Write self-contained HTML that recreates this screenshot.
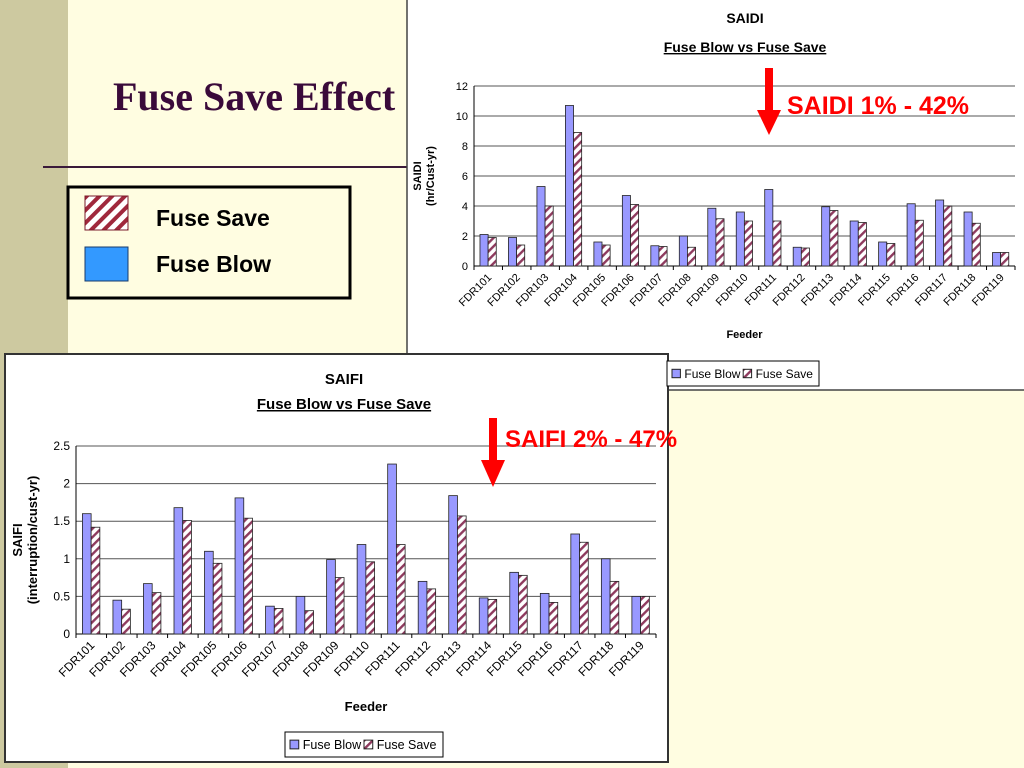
<!DOCTYPE html>
<html><head><meta charset="utf-8"><style>
body{margin:0;width:1024px;height:768px;overflow:hidden;background:#fffde1;font-family:"Liberation Sans",sans-serif;}
svg{position:absolute;left:0;top:0}
</style></head><body>
<svg width="1024" height="768">
<defs>
<pattern id="hatch" patternUnits="userSpaceOnUse" width="6" height="6" patternTransform="rotate(45)">
<rect width="6" height="6" fill="#fff"/><rect width="2.4" height="6" fill="#8e3a5e"/>
</pattern>
<pattern id="hatch2" patternUnits="userSpaceOnUse" width="9" height="9" patternTransform="rotate(45)">
<rect width="9" height="9" fill="#fff"/><rect width="4" height="9" fill="#a0283c"/>
</pattern>
</defs>
<rect x="0" y="0" width="68" height="768" fill="#cdc9a0"/>
<line x1="43" y1="167" x2="407" y2="167" stroke="#3a1a3a" stroke-width="2"/>
<text x="113" y="110" font-family="Liberation Serif" font-weight="bold" font-size="40" fill="#3a0a3a">Fuse Save Effect</text>
<g>
<rect x="68" y="187" width="282" height="111" fill="none" stroke="#000" stroke-width="3"/>
<rect x="85" y="196" width="43" height="34" fill="url(#hatch2)" stroke="#7a1a2a"/>
<text x="156" y="226" font-weight="bold" font-size="23">Fuse Save</text>
<rect x="85" y="247" width="43" height="34" fill="#3399ff" stroke="#1a3a6a"/>
<text x="156" y="272" font-weight="bold" font-size="23">Fuse Blow</text>
</g>
<rect x="407" y="-1" width="618" height="391" fill="#fff" stroke="#444" stroke-width="1.5"/>
<rect x="5" y="354" width="663" height="408" fill="#fff" stroke="#333" stroke-width="2"/>
<g id="saidi"></g>
<g id="saifi"></g>
<g>
<rect x="765" y="68" width="8" height="44" fill="#f00"/>
<polygon points="757,110 781,110 769,135" fill="#f00"/>
<text x="787" y="114" font-weight="bold" font-size="25" fill="#f00">SAIDI 1% - 42%</text>
</g>
<g>
<rect x="489" y="418" width="8" height="44" fill="#f00"/>
<polygon points="481,460 505,460 493,487" fill="#f00"/>
<text x="505" y="447" font-weight="bold" font-size="24" fill="#f00">SAIFI 2% - 47%</text>
</g>
</svg>
<script>
const categories = ["FDR101","FDR102","FDR103","FDR104","FDR105","FDR106","FDR107","FDR108","FDR109","FDR110","FDR111","FDR112","FDR113","FDR114","FDR115","FDR116","FDR117","FDR118","FDR119"];
const saidiBlow = [2.1,1.9,5.3,10.7,1.6,4.7,1.35,2.0,3.85,3.6,5.1,1.25,3.95,3.0,1.6,4.15,4.4,3.6,0.9];
const saidiSave = [1.9,1.4,4.0,8.9,1.4,4.1,1.3,1.25,3.15,3.0,3.0,1.2,3.7,2.9,1.5,3.05,4.0,2.85,0.9];
const saidiTicks = [0,2,4,6,8,10,12];
const saifiBlow = [1.6,0.45,0.67,1.68,1.1,1.81,0.37,0.5,0.99,1.19,2.26,0.7,1.84,0.48,0.82,0.54,1.33,1.0,0.5];
const saifiSave = [1.42,0.33,0.55,1.51,0.94,1.54,0.34,0.31,0.75,0.96,1.19,0.6,1.57,0.46,0.78,0.42,1.22,0.7,0.5];
const saifiTicks = [0,0.5,1,1.5,2,2.5];
const NS="http://www.w3.org/2000/svg";
function mk(parent,tag,attrs,txt){const e=document.createElementNS(NS,tag);for(const k in attrs)e.setAttribute(k,attrs[k]);if(txt!==undefined)e.textContent=txt;parent.appendChild(e);return e;}
function chart(gid,o,blow,save,ticks){
  const g=document.getElementById(gid);
  const ymax=ticks[ticks.length-1];
  const y=v=>o.y1-(v/ymax)*(o.y1-o.y0);
  const cw=(o.x1-o.x0)/categories.length;
  const x=i=>o.x0+i*cw;
  const bw=cw/3.5;
  ticks.forEach(t=>{
    const l=mk(g,'line',{x1:o.x0,x2:o.x1,y1:y(t),y2:y(t),stroke:t===0?'#000':'#555','stroke-width':1});
    
    
    const tl=mk(g,'text',{x:o.x0-6,y:y(t)+4,'text-anchor':'end','font-size':o.fs},String(t));
    
    
  });
  mk(g,'line',{x1:o.x0,x2:o.x0,y1:o.y0,y2:o.y1,stroke:'#000'});
  categories.forEach((c,i)=>{
    const b=mk(g,'rect',{x:x(i)+cw*0.21,y:y(blow[i]),width:bw,height:o.y1-y(blow[i]),fill:'#9999ff',stroke:'#222','stroke-width':0.8});
    
    
    const s=mk(g,'rect',{x:x(i)+cw*0.21+bw,y:y(save[i]),width:bw,height:o.y1-y(save[i]),fill:'url(#hatch)',stroke:'#222','stroke-width':0.8});
    
    
    mk(g,'line',{x1:x(i),x2:x(i),y1:o.y1,y2:o.y1+4,stroke:'#000'});
    const tx=x(i)+cw*0.5+4, ty=o.y1+12;
    const lab=mk(g,'text',{x:tx,y:ty,'text-anchor':'end','font-size':o.fs,transform:`rotate(-45 ${tx} ${ty})`},c);
    
    
  });
  mk(g,'line',{x1:o.x1,x2:o.x1,y1:o.y1,y2:o.y1+4,stroke:'#000'});
  const cx=o.tcx;
  const t1=mk(g,'text',{x:cx,y:o.t1,'text-anchor':'middle','font-weight':'bold','font-size':o.tfs},o.title);
  
  
  const t2=mk(g,'text',{x:cx,y:o.t2,'text-anchor':'middle','font-weight':'bold','font-size':o.tfs,'text-decoration':'underline'},'Fuse Blow vs Fuse Save');
  
  
  const xt=mk(g,'text',{x:(o.x0+o.x1)/2,y:o.xty,'text-anchor':'middle','font-weight':'bold','font-size':o.afs},'Feeder');
  
  
  const ym=(o.y0+o.y1)/2;
  const ya=mk(g,'text',{x:o.yax,y:ym,'text-anchor':'middle','font-weight':'bold','font-size':o.afs,transform:`rotate(-90 ${o.yax} ${ym})`},o.ytitle1);
  
  
  const yb=mk(g,'text',{x:o.yax+o.afs+2,y:ym,'text-anchor':'middle','font-weight':'bold','font-size':o.afs,transform:`rotate(-90 ${o.yax+o.afs+2} ${ym})`},o.ytitle2);
  
  
  const lg=mk(g,'g',{});
  
  
  mk(lg,'rect',{x:o.lx,y:o.ly,width:o.lw,height:o.lh,fill:'#fff',stroke:'#000'});
  const sw=o.lfs*0.7, my=o.ly+o.lh/2;
  mk(lg,'rect',{x:o.lx+5,y:my-sw/2,width:sw,height:sw,fill:'#9999ff',stroke:'#222'});
  const e1=mk(lg,'text',{x:o.lx+5+sw+4,y:my+o.lfs*0.36,'font-size':o.lfs},'Fuse Blow');
  
  
  const x2=o.lx+5+sw+4+o.lfs*4.9;
  mk(lg,'rect',{x:x2,y:my-sw/2,width:sw,height:sw,fill:'url(#hatch)',stroke:'#222'});
  const e2=mk(lg,'text',{x:x2+sw+4,y:my+o.lfs*0.36,'font-size':o.lfs},'Fuse Save');
  
  
}
chart('saidi',{x0:474,x1:1015,y0:86,y1:266,fs:11,tfs:14,afs:11,tcx:745,t1:23,t2:52,xty:338,yax:421,ytitle1:'SAIDI',ytitle2:'(hr/Cust-yr)',title:'SAIDI',lx:667,ly:361,lw:152,lh:25,lfs:12},saidiBlow,saidiSave,saidiTicks);
chart('saifi',{x0:76,x1:656,y0:446,y1:634,fs:12,tfs:15,afs:13,tcx:344,t1:384,t2:409,xty:711,yax:22,ytitle1:'SAIFI',ytitle2:'(interruption/cust-yr)',title:'SAIFI',lx:285,ly:732,lw:158,lh:25,lfs:12.5},saifiBlow,saifiSave,saifiTicks);
</script>
</body></html>
